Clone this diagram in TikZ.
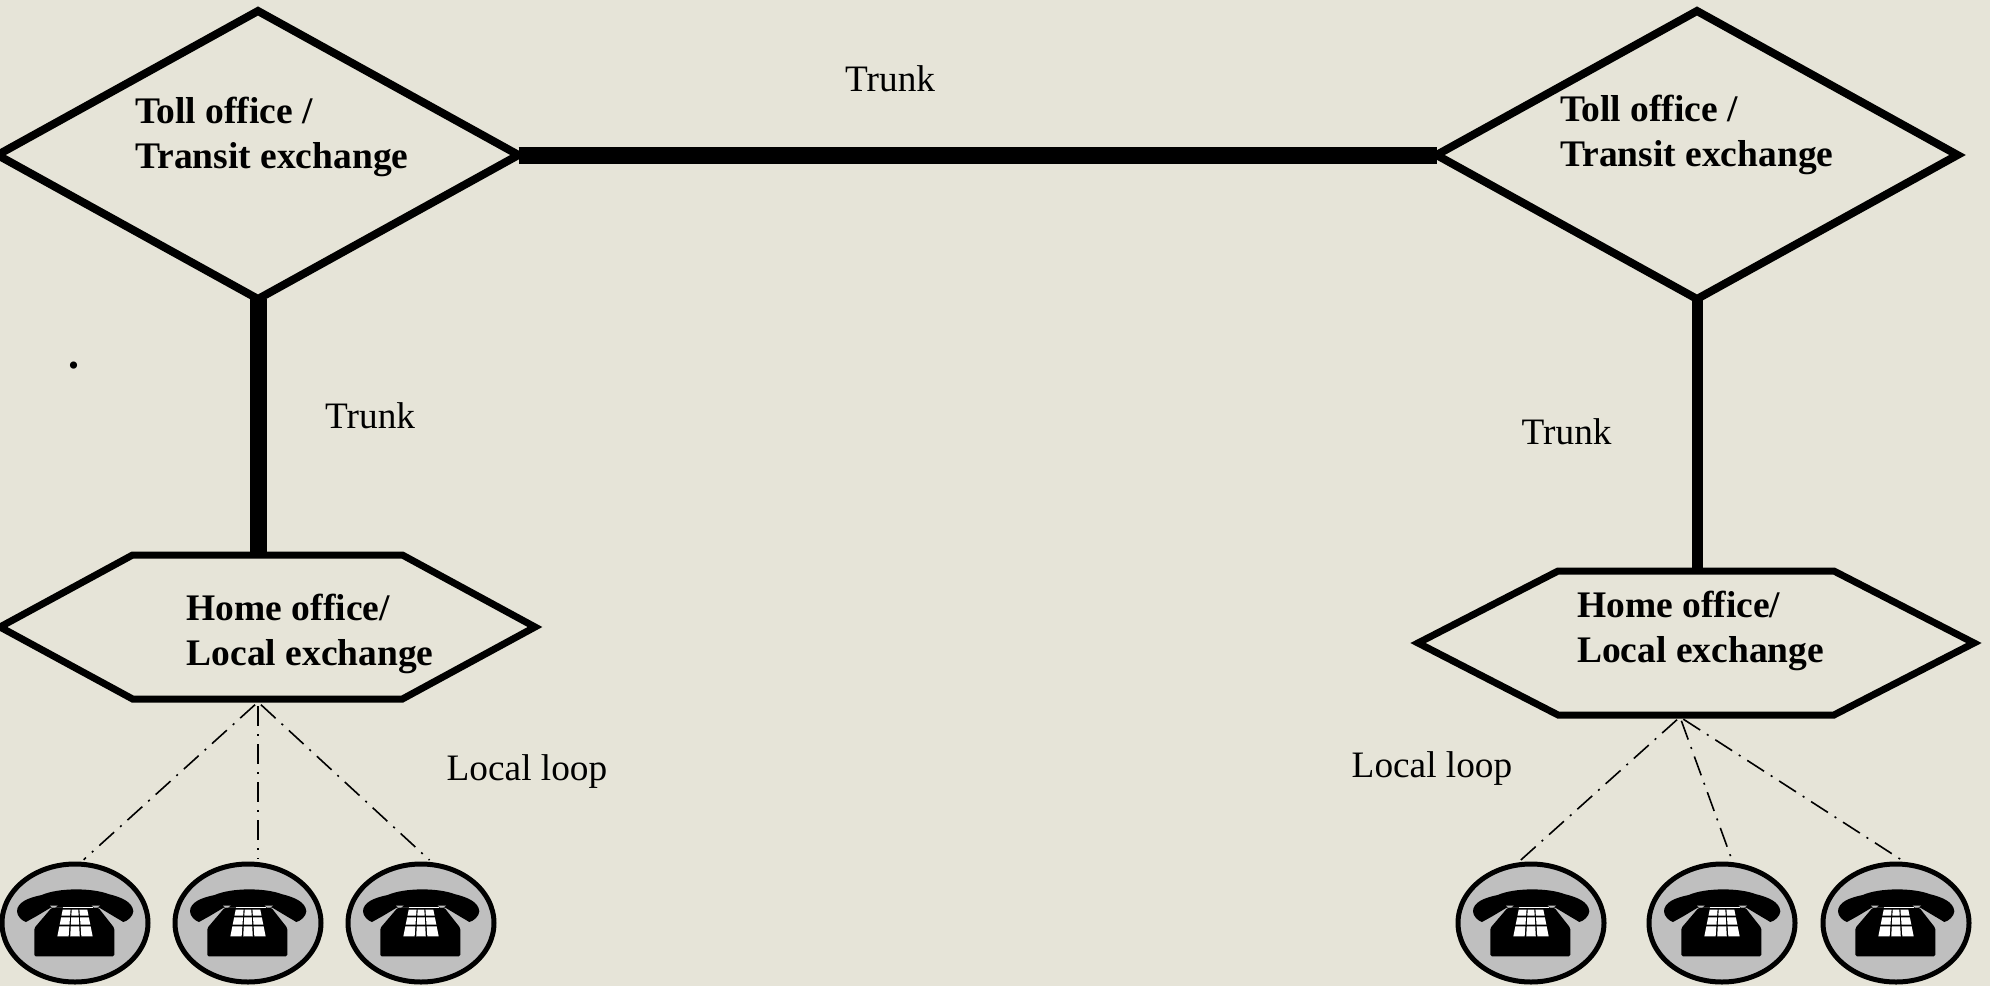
\documentclass[tikz,border=0pt]{standalone}
\usepackage{fontspec}
\setmainfont{Liberation Serif}
\usetikzlibrary{shapes.geometric,shapes.symbols}
\definecolor{paper}{HTML}{E6E4D8}
\definecolor{phonegray}{HTML}{BFBFBF}
\tikzset{
  toll/.style={diamond,draw=black,line width=8pt,inner sep=0pt,outer sep=0pt,minimum width=521pt,minimum height=288pt,aspect=1.8},
  home/.style={signal,signal to=east and west,draw=black,line width=7pt,inner sep=0pt,outer sep=0pt,minimum height=144pt},
  strong/.style={anchor=west,inner sep=0pt,align=left,font=\fontsize{37.5}{45}\selectfont\bfseries},
  plain/.style={anchor=base west,inner sep=0pt,font=\fontsize{37.3}{44}\selectfont},
  phonebox/.style={ellipse,draw=black,line width=5pt,fill=phonegray,inner sep=0pt,minimum width=146pt,minimum height=118pt},
  loop/.style={line width=1.6pt,dash pattern=on 20pt off 8pt on 2pt off 8pt,shorten >=3pt,shorten <=4pt},
  trunkthick/.style={line width=17pt},
  trunkthin/.style={line width=11pt},
  phone/.pic={
    \begin{scope}[scale=1/3]
      \fill[black] (-174,-35) .. controls (-174,-62) and (-140,-76) .. (-100,-84)
        .. controls (-50,-106) and (50,-106) .. (100,-87)
        .. controls (140,-77) and (172,-64) .. (175,-35)
        .. controls (174,-20) and (158,-6) .. (145,-3)
        -- (113,-22) -- (73,-46) -- (-73,-46) -- (-113,-22) -- (-147,-3)
        .. controls (-158,-6) and (-174,-20) .. cycle;
      \fill[black,rounded corners=1.5pt] (-70,-46) -- (-122,15) -- (-122,100) -- (118,100) -- (118,15) -- (70,-46) -- cycle;
      \fill[phonegray] (-75,-52) -- (-52,-52) -- (-60,-46) -- (-68,-46) -- cycle;
      \fill[phonegray] (50,-52) -- (75,-52) -- (66,-46) -- (58,-46) -- cycle;
      \draw[white,line width=.7pt] (-37,-47) -- (53,-47);
      \foreach \ya/\ha/\yb/\hb in {-40/37/-22/40.6,-17/41.6/5/46,10/47/40/53}
        \foreach \l/\r in {-1/-.36,-.27/.27,.36/1}
          \fill[white] ({\l*\ha},\ya) -- ({\r*\ha},\ya) -- ({\r*\hb},\yb) -- ({\l*\hb},\yb) -- cycle;
    \end{scope}
  }
}
\begin{document}
\begin{tikzpicture}[x=1pt,y=-1pt]
\useasboundingbox (0,0) rectangle (1990,986);
\fill[paper] (0,0) rectangle (1990,986);

% exchanges
\node[toll] (tollL) at (258,155) {};
\node[toll] (tollR) at (1697,155) {};
\node[home,minimum width=535pt,signal pointer angle=57] (homeL) at (267.5,627) {};
\node[home,minimum width=556pt,signal pointer angle=54.4] (homeR) at (1696,643) {};

% trunks
\draw[trunkthick] (tollL.east) -- (tollR.west);
\draw[trunkthick] (tollL.south) -- (tollL.south |- homeL.north);
\draw[trunkthin] (tollR.south) -- (tollR.south |- homeR.north);

% phones
\node[phonebox] (pa) at (75,923) {};
\node[phonebox] (pb) at (248,923) {};
\node[phonebox] (pc) at (421,923) {};
\node[phonebox] (pd) at (1531,923) {};
\node[phonebox] (pe) at (1722,923) {};
\node[phonebox] (pf) at (1896,923) {};
\foreach \p in {pa,pb,pc,pd,pe,pf} \pic at (\p.center) {phone};

% local loops
\coordinate (hubL) at (258,702);
\coordinate (hubR) at (1680,717);
\draw[loop] (hubL) -- (pa.84);
\draw[loop] (hubL) -- (pb.north -| hubL);
\draw[loop] (hubL) -- (pc.80);
\draw[loop] (hubR) -- (pd.102);
\draw[loop] (hubR) -- (pe.80);
\draw[loop] (hubR) -- (pf.82);

% labels
\node[strong] (tL) at (135,136.5) {Toll office /\\Transit exchange};
\node[strong] (tR) at (1560,134.5) {Toll office /\\Transit exchange};
\node[strong] (hL) at (186.5,633.5) {Home office/\\Local exchange};
\node[strong] (hR) at (1577,630.5) {Home office/\\Local exchange};
\node[plain] (t1) at (845,91) {Trunk};
\node[plain] (t2) at (325,428) {Trunk};
\node[plain] (t3) at (1521.5,444) {Trunk};
\node[plain] (l1) at (446.5,780) {Local loop};
\node[plain] (l2) at (1351.5,777) {Local loop};
\node[plain,font=\fontsize{44}{44}\selectfont\bfseries] (dot) at (68,368) {.};
\end{tikzpicture}
\end{document}
